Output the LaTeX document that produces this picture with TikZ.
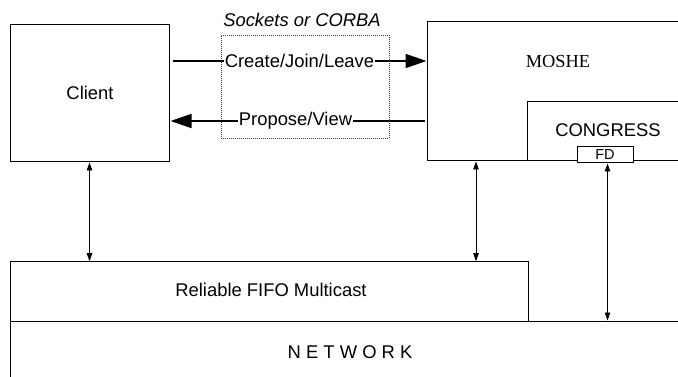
\documentclass[tikz,border=0pt]{standalone}
\usepackage{fontspec}
\setmainfont{Liberation Sans}
\newfontfamily\serifface{Liberation Serif}
\usetikzlibrary{arrows.meta,calc}

\begin{document}
\begin{tikzpicture}[x=1pt,y=-1pt,
  txt/.style={inner sep=0pt, font=\fontsize{18.4}{20}\selectfont},
  box/.style={draw=black, line width=1pt, inner sep=0pt, fill=white},
  linkbox/.style={draw=black!75, line width=0.6pt, dash pattern=on 1pt off 1pt},
  bigarrow/.style={line width=1.7pt, -{Triangle[length=21pt,width=14pt]}},
  lbl/.style={txt, fill=white, inner xsep=0.5pt, inner ysep=1pt},
  dblarrow/.style={line width=0.9pt, {Triangle[length=8pt,width=5.5pt]}-{Triangle[length=8pt,width=5.5pt]}}]
\useasboundingbox (0,0) rectangle (678,377);

% layers and components
\node[box, minimum width=680pt, minimum height=69pt] (network) at (350,355.5) {};
\node[txt] (netlabel) at (350,352) {N E T W O R K};
\node[box, minimum width=518pt, minimum height=59.3pt] (rfm) at (269,291.35) {};
\node[txt] (rfmlabel) at (271,290) {Reliable FIFO Multicast};

\node[box, minimum width=159pt, minimum height=137pt] (client) at (89.5,93.5) {};
\node[txt] (clientlabel) at (90,92.5) {Client};

\node[box, minimum width=263pt, minimum height=139.3pt] (moshe) at (558.5,91.35) {};
\node[txt, font=\serifface\fontsize{18.4}{20}\selectfont] (moshelabel) at (558,61) {MOSHE};
\node[box, minimum width=163pt, minimum height=59pt] (congress) at (608.5,131.5) {};
\node[txt] (congresslabel) at (608,130) {CONGRESS};
\node[box, minimum width=56pt, minimum height=16pt, font=\fontsize{14.5}{15}\selectfont] (fd) at (605,155) {FD};

% communication channel between client and MOSHE
\node[linkbox, minimum width=168pt, minimum height=103pt] (link) at (305,86.5) {};
\node[txt, font=\itshape\fontsize{18.4}{20}\selectfont] (linklabel) at (302,19.5) {Sockets or CORBA};

\coordinate (rowA) at (0,61);
\coordinate (rowB) at (0,121);
\draw[bigarrow] ($(client.east |- rowA)+(3,0)$) -- node[lbl] {Create/Join/Leave} (moshe.west |- rowA);
\draw[bigarrow] ($(moshe.west |- rowB)+(-2,0)$) -- node[lbl, xshift=-2pt] {Propose/View} ($(client.east |- rowB)+(1,0)$);

% vertical interactions
\coordinate (mx) at (476,0);
\coordinate (fx) at (607.5,0);
\draw[dblarrow] (client.south) -- (client.south |- rfm.north);
\draw[dblarrow] (moshe.south -| mx) -- (rfm.north -| mx);
\draw[dblarrow] (fd.south -| fx) -- (network.north -| fx);
\end{tikzpicture}
\end{document}
